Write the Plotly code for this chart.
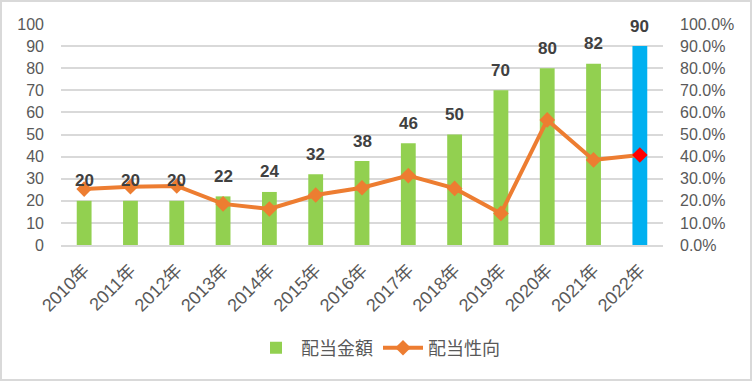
import plotly.graph_objects as go

years = ["2010年", "2011年", "2012年", "2013年", "2014年", "2015年", "2016年",
         "2017年", "2018年", "2019年", "2020年", "2021年", "2022年"]
dividend = [20, 20, 20, 22, 24, 32, 38, 46, 50, 70, 80, 82, 90]
payout_ratio = [25.3, 26.4, 26.7, 18.6, 16.3, 22.6, 25.9, 31.4, 25.6, 14.3, 56.6, 38.5, 40.7]
left_ticks = [0, 10, 20, 30, 40, 50, 60, 70, 80, 90, 100]
right_ticks = [0, 10, 20, 30, 40, 50, 60, 70, 80, 90, 100]
right_tick_labels = [f"{v:.1f}%" for v in right_ticks]

GREEN = "#92D050"
BLUE = "#00B0F0"
ORANGE = "#ED7D31"
RED = "#FF0000"
FONT = "Liberation Sans, Noto Sans CJK JP, sans-serif"

W, H = 752, 381
ML, MR, MT, MB = 61, 89, 24, 136

bar_colors = [GREEN] * (len(years) - 1) + [BLUE]
marker_colors = [ORANGE] * (len(years) - 1) + [RED]

fig = go.Figure()
fig.add_trace(go.Bar(
    x=years, y=dividend, name="配当金額",
    marker=dict(color=bar_colors, line=dict(width=0)),
    width=0.32,
))
fig.add_trace(go.Scatter(
    x=years, y=payout_ratio, name="配当性向", yaxis="y2",
    mode="lines+markers",
    line=dict(color=ORANGE, width=4),
    marker=dict(symbol="diamond", size=12, color=marker_colors),
))

for yr, v in zip(years, dividend):
    fig.add_annotation(x=yr, y=v, xref="x", yref="y", text=str(v),
                       showarrow=False, yshift=20,
                       font=dict(family=FONT, size=17, color="#404040", weight="bold"))

pw = W - ML - MR
ph = H - MT - MB
fig.add_shape(type="rect", xref="paper", yref="paper",
              x0=(1 - ML) / pw, x1=(W - 1 - ML) / pw,
              y0=-(MB - 1) / ph, y1=1 + (MT - 1) / ph,
              line=dict(color="#D9D9D9", width=2), layer="below")

fig.update_layout(
    width=W, height=H,
    margin=dict(l=ML, r=MR, t=MT, b=MB, autoexpand=False),
    paper_bgcolor="white", plot_bgcolor="white",
    font=dict(family=FONT, size=16, color="#595959"),
    showlegend=True,
    legend=dict(orientation="h", x=(378 - ML) / pw, xanchor="center",
                y=-(348 - (H - MB)) / ph, yanchor="middle",
                font=dict(family=FONT, size=18, color="#595959"), itemwidth=40),
    xaxis=dict(type="category", tickangle=-45, showgrid=False, automargin=False,
               range=[-0.5, len(years) - 0.5],
               showline=True, linecolor="#D9D9D9", linewidth=1.5,
               ticks="", ticklabelstandoff=6, tickfont=dict(size=18, color="#595959")),
    yaxis=dict(range=[0, 100], tickvals=left_ticks, showgrid=True, automargin=False,
               gridcolor="#D9D9D9", gridwidth=1.5, zeroline=False,
               ticks="", ticklabelstandoff=16, tickfont=dict(size=16, color="#595959")),
    yaxis2=dict(range=[0, 100], tickvals=right_ticks, ticktext=right_tick_labels,
                overlaying="y", side="right", automargin=False,
                showgrid=False, zeroline=False,
                ticks="", ticklabelstandoff=16, tickfont=dict(size=16, color="#595959")),
    bargap=0.68,
)

fig.write_html("out.html", config={"displayModeBar": False},
               post_script="document.body.style.margin='0';")
